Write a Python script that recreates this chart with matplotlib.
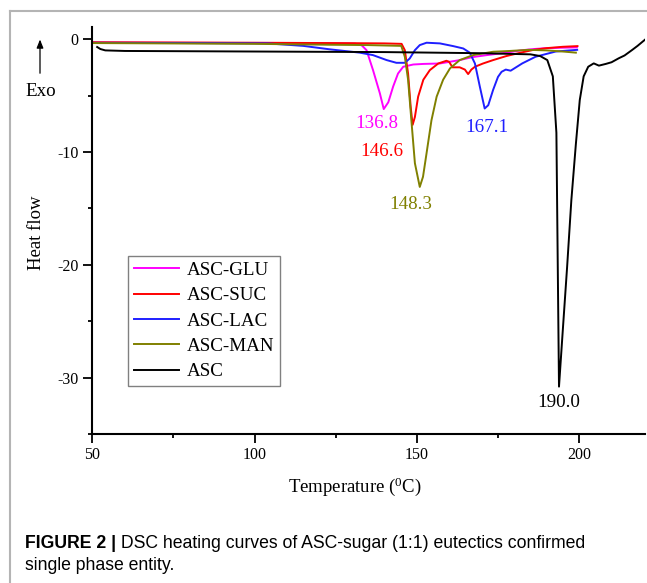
import matplotlib
matplotlib.use("Agg")
import matplotlib.pyplot as plt
from matplotlib.lines import Line2D
from matplotlib.ticker import MultipleLocator

plt.rcParams['font.family'] = ['Liberation Serif', 'DejaVu Serif']
plt.rcParams['mathtext.fontset'] = 'custom'
plt.rcParams['mathtext.rm'] = 'Liberation Serif'
plt.rcParams['mathtext.it'] = 'Liberation Serif:italic'
plt.rcParams['axes.unicode_minus'] = False

# ---------------- data ----------------
glu_T = [50, 80, 110, 125, 131, 133, 134.5, 136.5, 138.6, 139.8, 141.2, 142.7, 144.2,
         145.8, 148.9, 152, 157.1, 163.2, 167, 171.5, 177.6, 182, 186, 190, 195, 199.3]
glu_hf = [-0.30, -0.33, -0.36, -0.38, -0.40, -0.55, -0.98, -2.75, -4.8, -6.2, -5.6, -4.2, -3.05,
          -2.45, -2.25, -2.2, -2.16, -1.86, -1.6, -1.42, -1.2, -1.0, -0.88, -0.8, -0.76, -0.73]

suc_T = [50, 100, 130, 140, 145.3, 146.3, 147.3, 148.1, 148.7, 149.4, 150.4, 152, 154,
         156.6, 159.1, 159.9, 161, 163.2, 164.8, 165.8, 166.8, 167.9, 170.4, 173.5,
         177.6, 182, 186, 190, 195, 199.5]
suc_hf = [-0.28, -0.32, -0.36, -0.38, -0.42, -0.98, -3.05, -6.0, -7.6, -6.9, -5.1, -3.6, -2.75,
          -2.16, -1.92, -2.0, -2.5, -2.5, -2.7, -3.1, -2.7, -2.45, -2.16, -1.86,
          -1.5, -1.2, -0.95, -0.8, -0.68, -0.62]

lac_T = [50, 80, 104, 115, 123, 132.4, 136.5, 140.7, 143.7, 146.3, 147.8, 149.4, 150.9, 153,
         157.1, 161.2, 164.3, 166.3, 167.9, 169.4, 170.9, 172, 173.5, 175, 176.1, 177.4,
         178.9, 182.5, 186.6, 192.8, 199.4]
lac_hf = [-0.33, -0.35, -0.38, -0.6, -0.9, -1.2, -1.42, -1.86, -2.1, -2.1, -1.72, -0.98, -0.53, -0.32,
          -0.38, -0.62, -0.83, -1.2, -2.16, -4.2, -6.15, -5.86, -4.5, -3.35, -2.9, -2.7,
          -2.8, -2.15, -1.56, -1.1, -0.95]

man_T = [50, 100, 123, 135, 145.2, 146.3, 147.3, 148.4, 149.4, 150.9, 151.9, 153, 154.5,
         156.1, 158.1, 160.2, 163.2, 167.3, 173.5, 178.6, 184.5, 190, 195, 199]
man_hf = [-0.35, -0.42, -0.5, -0.53, -0.6, -1.57, -3.6, -7.5, -11.0, -13.1, -12.2, -10.1, -7.2,
          -5.1, -3.6, -2.6, -1.86, -1.42, -1.12, -1.05, -0.95, -1.0, -1.1, -1.2]

asc_T = [51.5, 52.5, 54, 60, 100, 140, 170, 185, 188, 190.2, 191.9, 193.0, 193.8, 194.9,
         196.3, 197.6, 199.0, 200.2, 201.4, 202.8, 204.5, 206.1, 208.2, 210, 212.2,
         214, 216.3, 218, 220.3]
asc_hf = [-0.7, -0.88, -1.0, -1.05, -1.1, -1.15, -1.25, -1.35, -1.5, -1.86, -3.3, -8.3, -30.8, -26.1,
          -20.2, -14.3, -9.3, -5.4, -3.3, -2.45, -2.15, -2.35, -2.2, -2.05, -1.7,
          -1.45, -0.97, -0.6, -0.05]

series = [
    ("ASC-GLU", glu_T, glu_hf, "#ff00ff"),
    ("ASC-SUC", suc_T, suc_hf, "#ff0000"),
    ("ASC-LAC", lac_T, lac_hf, "#1f1fff"),
    ("ASC-MAN", man_T, man_hf, "#808000"),
    ("ASC", asc_T, asc_hf, "#000000"),
]

peak_labels = ["136.8", "146.6", "167.1", "148.3", "190.0"]
peak_label_T = [137.6, 139.1, 171.5, 148.2, 193.7]
peak_label_hf = [-7.5, -10.0, -7.8, -14.7, -32.2]
peak_colors = ["#ff00ff", "#ff0000", "#1f1fff", "#808000", "#000000"]

x_ticks = [50, 100, 150, 200]
y_ticks = [0, -10, -20, -30]

# ---------------- figure ----------------
W, H = 647, 583
fig = plt.figure(figsize=(W / 100, H / 100), dpi=100)
ax_left, ax_right, ax_bottom, ax_top = 92.3, 645, 434, 26.7
ax = fig.add_axes([ax_left / W, 1 - ax_bottom / H, (ax_right - ax_left) / W, (ax_bottom - ax_top) / H])

for name, T, hf, c in series:
    ax.plot(T, hf, color=c, lw=1.4, label=name)

for lab, t, v, c in zip(peak_labels, peak_label_T, peak_label_hf, peak_colors):
    ax.text(t, v, lab, color=c, fontsize=13.7, ha='center', va='center')

ax.set_xlim(50, 220.3)
ax.set_ylim(-35, 1.1)
ax.set_xticks(x_ticks)
ax.set_yticks(y_ticks)
ax.xaxis.set_minor_locator(MultipleLocator(25))
ax.yaxis.set_minor_locator(MultipleLocator(5))
for s in ['top', 'right']:
    ax.spines[s].set_visible(False)
for s in ['left', 'bottom']:
    ax.spines[s].set_linewidth(1.5)
ax.tick_params(axis='both', which='major', direction='out', length=6.2, width=1.3,
               labelsize=11.5)
ax.tick_params(axis='both', which='minor', direction='out', length=3.1, width=1.3)
ax.tick_params(axis='y', which='major', pad=3.8)
ax.tick_params(axis='x', which='major', pad=3.5)

ax.set_xlabel("Temperature ($\\mathregular{^{0}}$C)", fontsize=13.5)
ax.xaxis.set_label_coords((354.7 - ax_left) / (ax_right - ax_left), (ax_bottom - 486.7) / (ax_bottom - ax_top))
ax.xaxis.label.set_va('center')
ax.set_ylabel("Heat flow", fontsize=13.5)
ax.yaxis.set_label_coords((37 - ax_left) / (ax_right - ax_left), (ax_bottom - 233) / (ax_bottom - ax_top))
ax.yaxis.label.set_va('center')

leg = ax.legend(loc='upper left',
                bbox_to_anchor=((128 - ax_left) / (ax_right - ax_left), (ax_bottom - 256) / (ax_bottom - ax_top)),
                borderaxespad=0, fontsize=13.7, frameon=True, fancybox=False,
                edgecolor='#808080', framealpha=1, handlelength=2.4, handletextpad=0.4,
                labelspacing=0.42, borderpad=0.3)
leg.get_frame().set_linewidth(1.0)

# Exo arrow
fig.add_artist(matplotlib.patches.FancyArrowPatch((40 / W, 1 - 76 / H), (40 / W, 1 - 36.7 / H),
               transform=fig.transFigure, arrowstyle='-|>,head_length=5,head_width=2',
               color='black', lw=0.9, mutation_scale=1))
fig.text(40.5 / W, 1 - 91.5 / H, "Exo", fontsize=13.7, ha='center', va='center')

# grey frame lines
fig.add_artist(Line2D([10 / W, 1], [1 - 10.7 / H, 1 - 10.7 / H], transform=fig.transFigure,
                      color='#b4b4b4', lw=1.5))
fig.add_artist(Line2D([10 / W, 10 / W], [0, 1 - 10.7 / H], transform=fig.transFigure,
                      color='#b4b4b4', lw=1.5))

# caption
cap_font = ['Liberation Sans', 'DejaVu Sans']
cap_size = 12.7
t1 = fig.text(25 / W, 1 - 542 / H, "FIGURE 2 |", fontsize=cap_size, fontweight='bold',
              family=cap_font, ha='left', va='center_baseline')
ann = ax.annotate(" DSC heating curves of ASC-sugar (1:1) eutectics confirmed",
                  xy=(1, 0), xycoords=t1, xytext=(0, 0), textcoords='offset points',
                  fontsize=cap_size, family=cap_font, ha='left', va='bottom', annotation_clip=False)
fig.text(25 / W, 1 - 564 / H, "single phase entity.", fontsize=cap_size, family=cap_font,
         ha='left', va='center_baseline')

fig.savefig("out.png", dpi=100)
